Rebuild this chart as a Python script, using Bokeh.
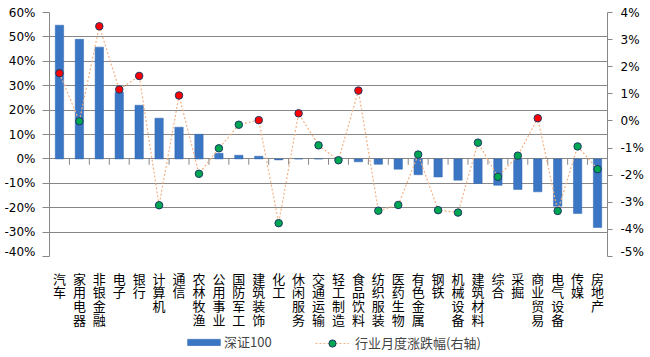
from bokeh.plotting import figure
from bokeh.layouts import column
from bokeh.models import (FactorRange, Range1d, LinearAxis, FixedTicker, PrintfTickFormatter,
                          ColumnDataSource, Legend, LegendItem)
from bokeh.transform import dodge
from bokeh.embed import file_html
from bokeh.resources import INLINE

categories = ["汽车", "家用电器", "非银金融", "电子", "银行", "计算机", "通信", "农林牧渔",
              "公用事业", "国防军工", "建筑装饰", "化工", "休闲服务", "交通运输", "轻工制造",
              "食品饮料", "纺织服装", "医药生物", "有色金属", "钢铁", "机械设备", "建筑材料",
              "综合", "采掘", "商业贸易", "电气设备", "传媒", "房地产"]

# 深证100 (left axis, %)
index_values = [54.8, 49.0, 45.8, 27.3, 22.0, 16.7, 13.0, 10.1,
                2.3, 1.5, 1.1, -0.4, 0.0, 0.0, 0.0,
                -1.2, -2.2, -4.2, -6.5, -7.4, -8.7, -10.1,
                -10.8, -12.5, -13.5, -19.4, -22.4, -28.1]

# 行业月度涨跌幅 (right axis, %)
industry_change = [1.76, -0.01, 3.49, 1.16, 1.66, -3.11, 0.94, -1.95,
                   -1.01, -0.14, 0.03, -3.77, 0.28, -0.90, -1.45,
                   1.12, -3.31, -3.10, -1.24, -3.29, -3.38, -0.80,
                   -2.06, -1.28, 0.10, -3.32, -0.94, -1.78]

left_ticks = [-40, -30, -20, -10, 0, 10, 20, 30, 40, 50, 60]
right_ticks = [-5, -4, -3, -2, -1, 0, 1, 2, 3, 4]

GRID = "#878787"
CJK = "Noto Sans CJK SC"
BAR = "#3B76C4"
LINE = "#F4B183"
RED = "#FF0000"
GREEN = "#00A651"
EDGE = "#1F3864"

point_colors = [RED if v > 0 else GREEN for v in industry_change]

src = ColumnDataSource(dict(cat=categories, bar=index_values,
                            chg=industry_change, color=point_colors,
                            label=["\n".join(c) for c in categories]))
bsrc = ColumnDataSource(dict(b=categories[1:]))

xr = FactorRange(*categories)

# ---------------- main chart ----------------
p = figure(width=650, height=258, x_range=xr,
           y_range=Range1d(-40, 60), output_backend="svg", toolbar_location=None,
           min_border_left=49, min_border_right=43, min_border_top=12,
           min_border_bottom=2)
p.extra_y_ranges = {"right": Range1d(-5, 4)}
p.outline_line_color = None
p.xgrid.grid_line_color = None
p.ygrid.ticker = FixedTicker(ticks=left_ticks)
p.ygrid.grid_line_color = GRID
p.ygrid.grid_line_width = 1
p.xaxis.visible = False

bars = p.vbar(x="cat", top="bar", width=0.42, source=src,
              fill_color=BAR, line_color="#3369B0", line_width=0.5)

# category boundary ticks on the zero line
p.segment(x0=dodge("b", -0.5, range=xr), x1=dodge("b", -0.5, range=xr),
          y0=0, y1=-2.4, source=bsrc, line_color=GRID, line_width=1)

p.line(x="cat", y="chg", source=src, y_range_name="right",
       line_color=LINE, line_dash="2 2", line_width=1.2)
p.scatter(x="cat", y="chg", source=src, y_range_name="right", size=7.5,
          fill_color="color", line_color=EDGE, line_width=1)

ya = p.yaxis[0]
ya.ticker = FixedTicker(ticks=left_ticks)
ya.formatter = PrintfTickFormatter(format="%d%%")
ya.major_tick_out = 7
ya.major_tick_in = 0
ya.minor_tick_line_color = None
ya.axis_line_color = GRID
ya.major_tick_line_color = GRID
ya.major_label_standoff = 7
ya.major_label_text_font = "DejaVu Sans"
ya.major_label_text_font_size = "12px"
ya.major_label_text_color = "black"

ra = LinearAxis(y_range_name="right", ticker=FixedTicker(ticks=right_ticks),
                formatter=PrintfTickFormatter(format="%d%%"))
ra.major_tick_out = 5
ra.major_tick_in = 0
ra.minor_tick_line_color = None
ra.axis_line_color = GRID
ra.major_tick_line_color = GRID
ra.major_label_standoff = 8
ra.major_label_text_font = "DejaVu Sans"
ra.major_label_text_font_size = "12px"
ra.major_label_text_color = "black"
p.add_layout(ra, "right")

# ---------------- category labels + legend ----------------
q = figure(width=650, height=99, x_range=xr, y_range=Range1d(99, 0),
           output_backend="svg", toolbar_location=None,
           x_axis_location=None, y_axis_location=None,
           min_border_left=49, min_border_right=43, min_border_top=0,
           min_border_bottom=0)
q.outline_line_color = None
q.grid.grid_line_color = None

q.text(x="cat", y=10, text="label", source=src, text_align="center",
       text_baseline="top", text_font={"value": CJK}, text_font_size="13px",
       text_line_height=0.72, text_color="black")

# legend proxies (one row each, placed far outside the visible area)
proxy = ColumnDataSource(dict(cat=categories[:1], v=[1000]))
lb = q.vbar(x="cat", top="v", bottom="v", width=0.001, source=proxy, fill_color=BAR,
            line_color="#3369B0", line_width=0.5)
ll = q.line(x="cat", y="v", source=proxy, line_color=LINE, line_dash="2 2",
            line_width=1.2)
lp = q.scatter(x="cat", y="v", source=proxy, size=7.5, fill_color=GREEN,
               line_color=EDGE, line_width=1)

leg1 = Legend(items=[LegendItem(label="深证100", renderers=[lb])],
              location=(134, 6), orientation="horizontal",
              glyph_width=41, glyph_height=8, label_height=8, padding=0, margin=0,
              border_line_color=None, background_fill_alpha=0, label_standoff=0,
              label_text_font=CJK, label_text_font_size="13px")
leg2 = Legend(items=[LegendItem(label="行业月度涨跌幅(右轴)", renderers=[ll, lp])],
              location=(266, 5), orientation="horizontal",
              glyph_width=34, glyph_height=18, label_height=18, padding=0, margin=0,
              border_line_color=None, background_fill_alpha=0, label_standoff=6,
              label_text_font=CJK, label_text_font_size="13px")
q.add_layout(leg1, "center")
q.add_layout(leg2, "center")

layout = column(p, q, spacing=0)
open("out.html", "w").write(file_html(layout, INLINE))
